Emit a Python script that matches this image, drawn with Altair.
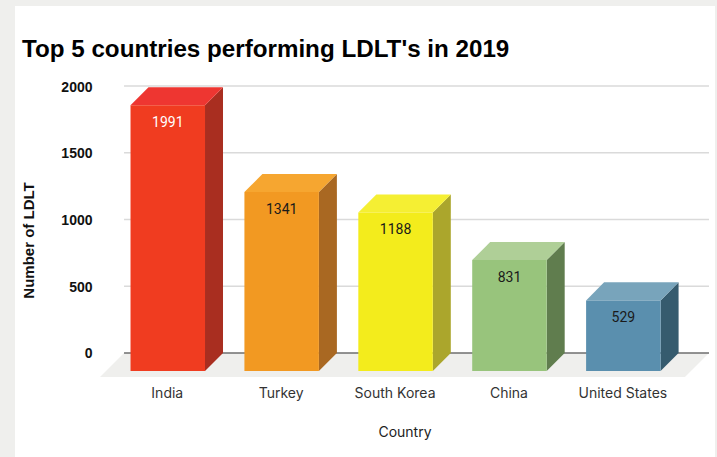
import json
import altair as alt
import pandas as pd

countries = ["India", "Turkey", "South Korea", "China", "United States"]
ldlt = [1991, 1341, 1188, 831, 529]
front_colors = ["#F03C20", "#F29922", "#F3EC1C", "#98C47C", "#5A8FAE"]
top_colors = ["#EE3631", "#F6A630", "#F5EF33", "#AFCF97", "#78A4BB"]
side_colors = ["#A92E20", "#A96822", "#ABA62C", "#607D4E", "#365B6E"]
label_colors = ["#FFFFFF", "#1A1A1A", "#1A1A1A", "#1A1A1A", "#1A1A1A"]
y_ticks = [0, 500, 1000, 1500, 2000]

# Extrusion of the columns, in axis units
half_w = 0.327
depth_x = 0.158
depth_y = 135
x_domain = [-0.595, 4.752]
y_domain = [-180, 2000]

x_scale = alt.Scale(domain=x_domain, nice=False, zero=False)
y_scale = alt.Scale(domain=y_domain, nice=False, zero=False)

bars = pd.DataFrame(
    {
        "i": range(5),
        "country": countries,
        "value": ldlt,
        "front": front_colors,
        "label_color": label_colors,
    }
)
bars["x0"] = bars["i"] - half_w
bars["x1"] = bars["i"] + half_w
bars["y0"] = -depth_y
bars["y1"] = bars["value"] - depth_y

top_rows, side_rows = [], []
for i, v in enumerate(ldlt):
    c = top_colors[i]
    top_rows += [
        {"c": c, "k": i, "y": v - depth_y, "xa": i - half_w, "xb": i + half_w},
        {"c": c, "k": i, "y": v, "xa": i - half_w + depth_x, "xb": i + half_w + depth_x},
    ]
    c = side_colors[i]
    side_rows += [
        {"c": c, "k": i, "x": i + half_w, "ya": v - depth_y, "yb": -depth_y},
        {"c": c, "k": i, "x": i + half_w + depth_x, "ya": v, "yb": 0},
    ]
top_df = pd.DataFrame(top_rows)
side_df = pd.DataFrame(side_rows)

floor_df = pd.DataFrame(
    {"y": [y_domain[0], 0], "xa": [x_domain[0], -0.384], "xb": [4.541, x_domain[1]]}
)
grid_df = pd.DataFrame({"y": y_ticks, "xa": -0.384, "xb": x_domain[1]})
grid_df["tone"] = ["#6E6E6E" if t == 0 else "#DADADA" for t in y_ticks]

names = json.dumps(countries)

y_axis = alt.Axis(
    values=y_ticks,
    format="d",
    grid=False,
    domain=False,
    ticks=False,
    zindex=1,
    labelFont="Liberation Sans",
    labelFontSize=14,
    labelFontWeight=700,
    labelColor="#111111",
    labelPadding=8,
    labelOffset=1,
    titleFont="Liberation Sans",
    titleFontSize=15,
    titleFontWeight=700,
    titleColor="#111111",
    titleX=-64,
    titleY=154,
)
x_axis = alt.Axis(
    values=list(range(5)),
    labelExpr=f"{names}[datum.value]",
    grid=False,
    domain=False,
    ticks=False,
    zindex=1,
    labelFont="Inter",
    labelFontSize=14,
    labelFontWeight=400,
    labelColor="#333333",
    labelPadding=9,
    labelOffset=-1,
    labelFlush=False,
    labelOverlap=False,
    titleFont="Inter",
    titleFontSize=14,
    titleFontWeight=400,
    titleColor="#222222",
    titlePadding=25,
)


def pos_x(field):
    return alt.X(field, scale=x_scale, axis=x_axis, title="Country")


def pos_y(field):
    return alt.Y(field, scale=y_scale, axis=y_axis, title="Number of LDLT", stack=None)


# White card on the grey page
card = alt.Chart(pd.DataFrame({"a": [0]})).mark_rect(color="#FFFFFF").encode(
    x=alt.value(-85), x2=alt.value(615), y=alt.value(-80), y2=alt.value(371)
)

floor = alt.Chart(floor_df).mark_area(orient="horizontal", color="#EFEFED").encode(
    y=pos_y("y:Q"), x=pos_x("xa:Q"), x2="xb:Q"
)

grid = alt.Chart(grid_df).mark_rule(strokeWidth=1.5).encode(
    y=pos_y("y:Q"),
    x=pos_x("xa:Q"),
    x2="xb:Q",
    color=alt.Color("tone:N", scale=None),
)

top = alt.Chart(top_df).mark_area(orient="horizontal").encode(
    y=pos_y("y:Q"),
    x=pos_x("xa:Q"),
    x2="xb:Q",
    color=alt.Color("c:N", scale=None),
    detail="k:N",
)

side = alt.Chart(side_df).mark_area(orient="vertical").encode(
    x=pos_x("x:Q"),
    y=pos_y("ya:Q"),
    y2="yb:Q",
    color=alt.Color("c:N", scale=None),
    detail="k:N",
)

front = alt.Chart(bars).mark_rect().encode(
    x=pos_x("x0:Q"),
    x2="x1:Q",
    y=pos_y("y0:Q"),
    y2="y1:Q",
    color=alt.Color("front:N", scale=None),
)

labels = alt.Chart(bars).mark_text(
    font="Roboto", fontSize=14, baseline="middle", align="center", dy=18
).encode(
    x=pos_x("i:Q"),
    y=pos_y("y1:Q"),
    text="value:Q",
    color=alt.Color("label_color:N", scale=None),
)

chart = (
    alt.layer(card, floor, grid, side, top, front, labels)
    .properties(
        width=609,
        height=291,
        padding={"left": 100, "top": 86, "right": 8, "bottom": 80},
        autosize=alt.AutoSizeParams(type="none"),
        background="#EFEFED",
        title=alt.TitleParams(
            "Top 5 countries performing LDLT's in 2019",
            anchor="start",
            frame="group",
            font="Liberation Sans",
            fontSize=24.2,
            fontWeight="bold",
            color="#000000",
            dx=-78,
            dy=75,
            offset=19,
            zindex=1,
        ),
    )
    .configure_view(stroke=None)
)

chart.save("out.html", embed_options={"renderer": "svg", "actions": False})
